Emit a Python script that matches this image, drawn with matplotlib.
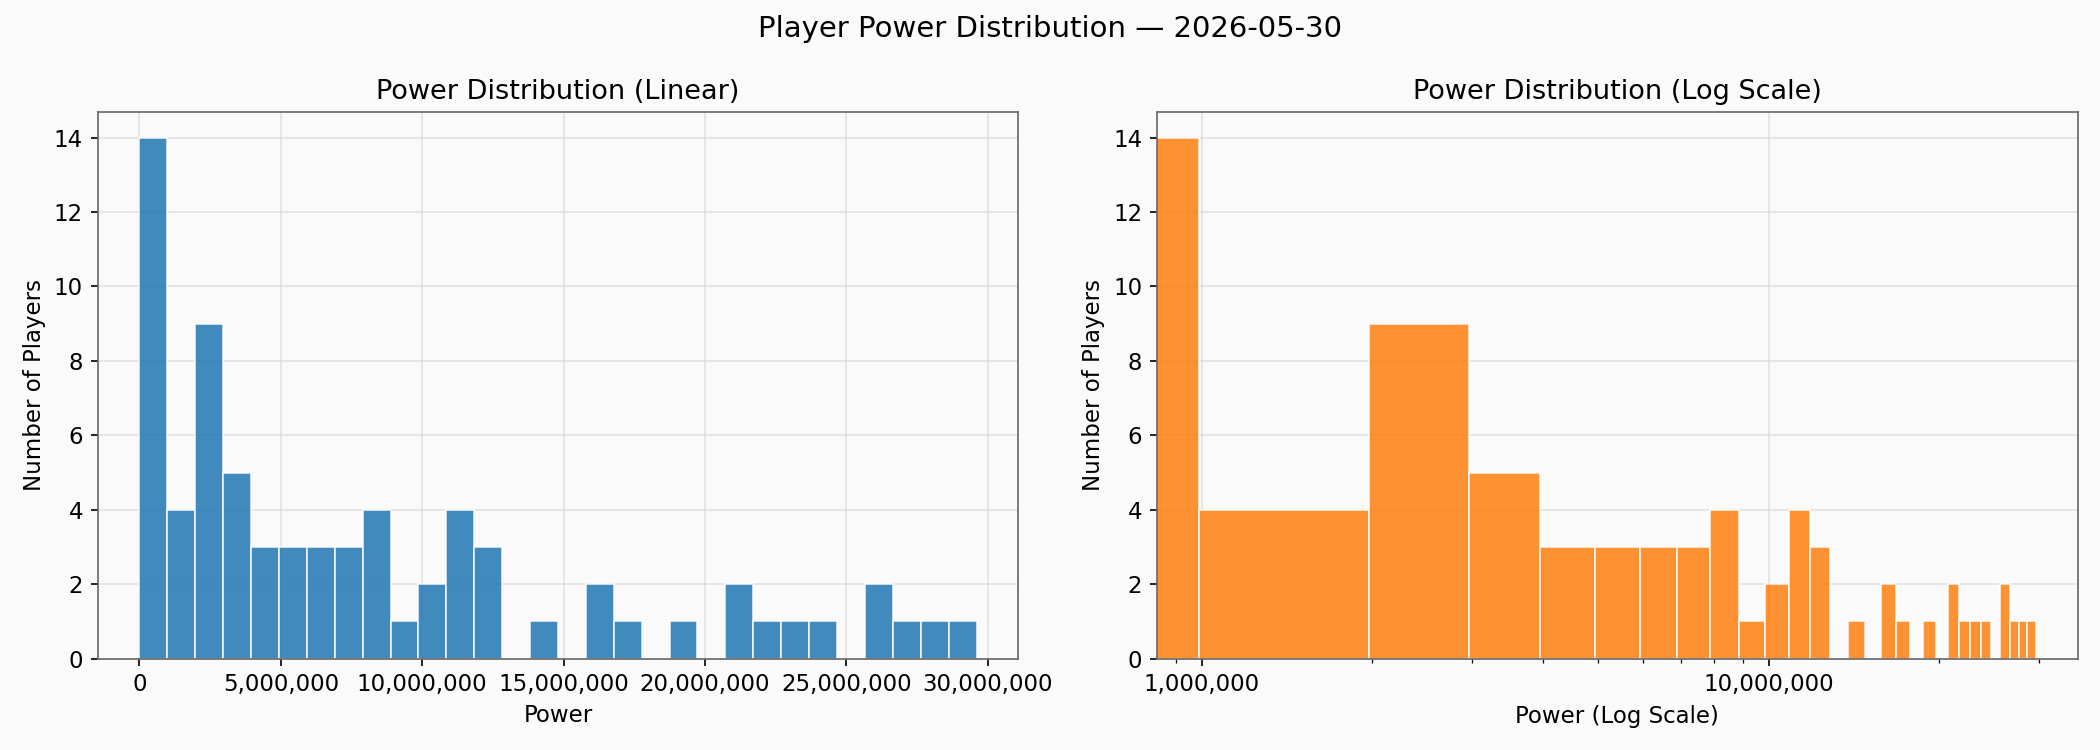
import numpy as np
import matplotlib
matplotlib.use("Agg")
import matplotlib.pyplot as plt
from matplotlib.ticker import FuncFormatter

# Histogram data (30 equal-width bins)
bin_min = 0.0
bin_max = 29.6e6
n_bins = 30
counts = [14, 4, 9, 5, 3, 3, 3, 3, 4, 1,
          2, 4, 3, 0, 1, 0, 2, 1, 0, 1,
          0, 2, 1, 1, 1, 0, 2, 1, 1, 1]

suptitle = "Player Power Distribution \u2014 2026-05-30"
title_lin = "Power Distribution (Linear)"
title_log = "Power Distribution (Log Scale)"
xlabel_lin = "Power"
xlabel_log = "Power (Log Scale)"
ylabel = "Number of Players"

edges = np.linspace(bin_min, bin_max, n_bins + 1)
centers = (edges[:-1] + edges[1:]) / 2

bg = "#fafafa"
fig, (ax1, ax2) = plt.subplots(1, 2, figsize=(14, 5), dpi=150, facecolor=bg)

fmt = FuncFormatter(lambda v, p: f"{v:,.0f}")

for ax in (ax1, ax2):
    ax.set_facecolor(bg)
    for s in ax.spines.values():
        s.set_color("#666666")
    ax.grid(True, color="#d8d8d8", alpha=0.7, linewidth=0.8)
    ax.set_axisbelow(True)
    ax.tick_params(labelsize=11)

ax1.hist(centers, bins=edges, weights=counts, color="#1f77b4", alpha=0.85,
         edgecolor="white", linewidth=0.8)
ax1.set_title(title_lin, fontsize=13)
ax1.set_xlabel(xlabel_lin, fontsize=11)
ax1.set_ylabel(ylabel, fontsize=11)
ax1.xaxis.set_major_formatter(fmt)

ax2.set_xscale("log")
ax2.hist(centers, bins=edges, weights=counts, color="#ff7f0e", alpha=0.85,
         edgecolor="white", linewidth=0.8)
ax2.set_title(title_log, fontsize=13)
ax2.set_xlabel(xlabel_log, fontsize=11)
ax2.set_ylabel(ylabel, fontsize=11)
ax2.xaxis.set_major_formatter(fmt)

fig.suptitle(suptitle, fontsize=14)
fig.tight_layout()
fig.subplots_adjust(top=fig.subplotpars.top - 0.008)
fig.savefig("out.png", dpi=150, facecolor=bg)
